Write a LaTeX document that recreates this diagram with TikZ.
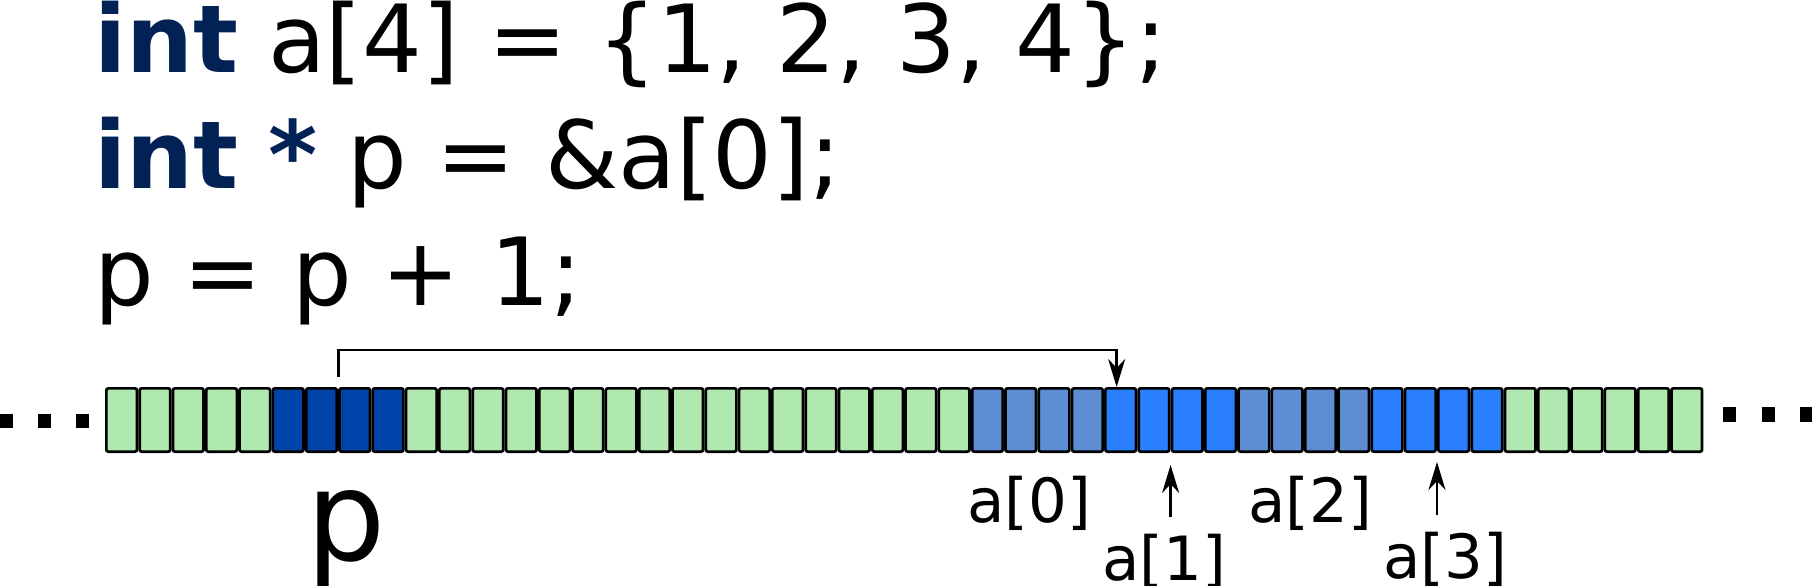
\documentclass[tikz,border=0pt]{standalone}
\usepackage{fontspec}
\setmainfont{DejaVu Sans}
\usepackage{tikz}
\usetikzlibrary{arrows.meta,positioning}

\definecolor{kwblue}{HTML}{022155}
\definecolor{cellgreen}{HTML}{AFE9AF}
\definecolor{pblue}{HTML}{0044AA}
\definecolor{midblue}{HTML}{5F8DD3}
\definecolor{brightblue}{HTML}{2A7FFF}
\newcommand{\kw}[1]{{\bfseries\color{kwblue}#1}}

\begin{document}
\begin{tikzpicture}[x=1pt,y=-1pt,>={Stealth[length=28pt,width=17pt,inset=9pt]},
		cell/.style={draw,line width=2.7pt,rounded corners=2pt,inner sep=0pt,
			minimum width=30.6pt,minimum height=63.3pt},
		code/.style={anchor=base west,inner sep=0pt,font=\fontsize{94}{110}\selectfont},
		idx/.style={anchor=base,inner sep=0pt,font=\fontsize{61}{70}\selectfont},
		link/.style={->,line width=2.8pt},
		pointer/.style={->,line width=2.3pt}]
		\useasboundingbox (0,0) rectangle (1812,586);
		% the three lines of code
		\node[code] (line1) at (94,72) {\kw{int} a[4] = \{1, 2, 3, 4\};};
		\node[code] (line2) at (94,188) {\kw{int} \kw{*} p = \&a[0];};
		\node[code] (line3) at (94,305) {p = p + 1;};
		% memory cells
		\foreach \i in {0,...,4,9,10,...,25,42,43,...,47}
			\node[cell,fill=cellgreen] (c\i) at (121.65+33.3*\i,420) {};
		\foreach \i in {5,...,8}
			\node[cell,fill=pblue] (c\i) at (121.65+33.3*\i,420) {};
		\foreach \i in {26,...,29,34,35,...,37}
			\node[cell,fill=midblue] (c\i) at (121.65+33.3*\i,420) {};
		\foreach \i in {30,...,33,38,39,...,41}
			\node[cell,fill=brightblue] (c\i) at (121.65+33.3*\i,420) {};
		% dots on both ends
		\foreach \x in {0,38,76}
			\fill (\x,414) rectangle ++(13,14);
		\foreach \x in {1723,1762,1800}
			\fill (\x,407) rectangle ++(13,15);
		% labels
		\node[anchor=base,inner sep=0pt,font=\fontsize{125}{140}\selectfont] (p) at (346,560) {p};
		\node[idx] (a0) at (1029,522) {a[0]};
		\node[idx] (a1) at (1164,580) {a[1]};
		\node[idx] (a2) at (1310,522) {a[2]};
		\node[idx] (a3) at (1445,578) {a[3]};
		% arrows
		\draw[link,shorten <=10pt] (c7.north west) -- ++(0,-37) -| ([xshift=-4pt]c30.north);
		\draw[pointer,shorten <=16pt,shorten >=12pt] (a1.north -| c32.south west) -- (c32.south west);
		\draw[pointer,shorten <=16pt,shorten >=9pt] (a3.north -| c40.south west) -- (c40.south west);
\end{tikzpicture}
\end{document}
